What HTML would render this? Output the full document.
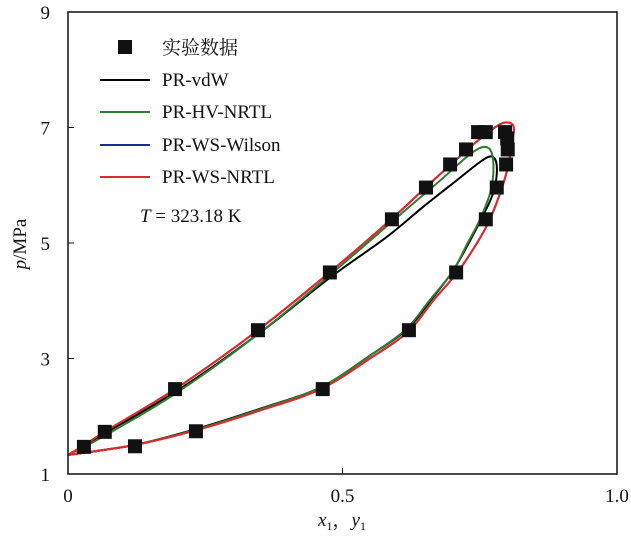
<!DOCTYPE html>
<html><head><meta charset="utf-8"><style>
body{margin:0;background:#fff}
svg text{font-family:"Liberation Serif","Noto Serif CJK SC",serif;fill:#111}
</style></head><body>
<svg id="chart" width="631" height="537" viewBox="0 0 631 537" xmlns="http://www.w3.org/2000/svg">
<g id="curves"></g><g id="marks"></g>
<rect x="68" y="12" width="549" height="462" fill="none" stroke="#111" stroke-width="1.5"/>
<g id="axes"></g>
<text transform="translate(26,244) rotate(-90)" text-anchor="middle" font-size="19"><tspan font-style="italic">p</tspan>/MPa</text>
<text x="342" y="526" text-anchor="middle" font-size="19"><tspan font-style="italic">x</tspan><tspan font-size="12" dy="4">1</tspan><tspan dy="-4">，</tspan><tspan font-style="italic">y</tspan><tspan font-size="12" dy="4">1</tspan></text>
<g>
<rect x="118" y="40" width="14" height="14" fill="#111"/>
<text x="162" y="54" font-size="19">实验数据</text>
<line x1="100" y1="80" x2="150" y2="80" stroke="#000" stroke-width="2"/>
<text x="162" y="86" font-size="19">PR-vdW</text>
<line x1="100" y1="112" x2="150" y2="112" stroke="#2f7d32" stroke-width="2"/>
<text x="162" y="118" font-size="19">PR-HV-NRTL</text>
<line x1="100" y1="145" x2="150" y2="145" stroke="#1d2a9a" stroke-width="2"/>
<text x="162" y="151" font-size="19">PR-WS-Wilson</text>
<line x1="100" y1="177" x2="150" y2="177" stroke="#e02a2a" stroke-width="2"/>
<text x="162" y="183" font-size="19">PR-WS-NRTL</text>
</g>
<text x="140" y="222" font-size="19"><tspan font-style="italic">T</tspan> = 323.18 K</text>
</svg>
<script>
const expX=[0.029,0.067,0.195,0.346,0.477,0.59,0.652,0.696,0.725,0.747,0.761,0.122,0.233,0.464,0.621,0.707,0.761,0.781,0.798,0.801,0.80,0.796];
const expP=[1.47,1.73,2.47,3.49,4.49,5.41,5.96,6.36,6.62,6.92,6.92,1.48,1.74,2.47,3.49,4.49,5.41,5.96,6.36,6.62,6.81,6.92];
const redX=[0,0.03,0.07,0.2,0.35,0.48,0.59,0.65,0.70,0.74,0.77,0.79,0.805,0.812,0.81,0.803,0.792,0.768,0.745,0.71,0.665,0.62,0.55,0.46,0.35,0.23,0.12,0];
const redP=[1.33,1.5,1.75,2.5,3.52,4.52,5.42,5.95,6.38,6.72,6.95,7.07,7.08,7.0,6.8,6.4,6.0,5.4,5.0,4.5,4.0,3.47,3.0,2.47,2.1,1.75,1.5,1.33];
const greenX=[0,0.07,0.2,0.35,0.48,0.6,0.68,0.73,0.755,0.77,0.775,0.77,0.75,0.728,0.70,0.658,0.615,0.55,0.46,0.35,0.23,0.12,0];
const greenP=[1.33,1.68,2.42,3.45,4.47,5.45,6.1,6.52,6.66,6.6,6.3,5.9,5.4,5.0,4.5,4.0,3.5,3.05,2.5,2.12,1.76,1.5,1.33];
const blackX=[0,0.07,0.2,0.35,0.48,0.58,0.65,0.71,0.75,0.77,0.78,0.78,0.772,0.752,0.73,0.70,0.66,0.617,0.55,0.46,0.35,0.23,0.12,0];
const blackP=[1.33,1.72,2.45,3.45,4.42,5.1,5.65,6.1,6.4,6.5,6.4,6.1,5.8,5.4,5.0,4.5,4.0,3.5,3.05,2.5,2.13,1.77,1.5,1.33];
const xTicks=[0,0.5,1.0],xLabels=["0","0.5","1.0"];
const yTicks=[1,3,5,7,9];
const NS="http://www.w3.org/2000/svg";
const sx=v=>68+v*549, sy=v=>474-(v-1)*57.75;
function pathD(X,P){const pts=X.map((x,i)=>[sx(x),sy(P[i])]);let d="M"+pts[0];for(let i=0;i<pts.length-1;i++){const p0=pts[i-1]||pts[i],p1=pts[i],p2=pts[i+1],p3=pts[i+2]||p2;const c1=[p1[0]+(p2[0]-p0[0])/6,p1[1]+(p2[1]-p0[1])/6],c2=[p2[0]-(p3[0]-p1[0])/6,p2[1]-(p3[1]-p1[1])/6];d+="C"+c1+" "+c2+" "+p2;}return d;}
const cg=document.getElementById('curves');
function addCurve(X,P,col,name){const p=document.createElementNS(NS,'path');p.setAttribute('d',pathD(X,P));p.setAttribute('fill','none');p.setAttribute('stroke',col);p.setAttribute('stroke-width','2');


cg.appendChild(p);}
addCurve(redX,redP,'#1d2a9a','curve-pr-ws-wilson');
addCurve(blackX,blackP,'#000','curve-pr-vdw');
addCurve(greenX,greenP,'#2f7d32','curve-pr-hv-nrtl');
addCurve(redX,redP,'#e02a2a','curve-pr-ws-nrtl');
const mg=document.getElementById('marks');
expX.forEach((x,i)=>{const r=document.createElementNS(NS,'rect');r.setAttribute('x',sx(x)-7);r.setAttribute('y',sy(expP[i])-7);r.setAttribute('width',14);r.setAttribute('height',14);r.setAttribute('fill','#111');


mg.appendChild(r);});
const ag=document.getElementById('axes');
xTicks.forEach((t,i)=>{const l=document.createElementNS(NS,'line');l.setAttribute('x1',sx(t));l.setAttribute('x2',sx(t));l.setAttribute('y1',474);l.setAttribute('y2',468);l.setAttribute('stroke','#111');


ag.appendChild(l);
const tx=document.createElementNS(NS,'text');tx.setAttribute('x',sx(t));tx.setAttribute('y',502);tx.setAttribute('text-anchor','middle');tx.setAttribute('font-size','19');tx.textContent=xLabels[i];


ag.appendChild(tx);});
yTicks.forEach(t=>{const l=document.createElementNS(NS,'line');l.setAttribute('x1',68);l.setAttribute('x2',74);l.setAttribute('y1',sy(t));l.setAttribute('y2',sy(t));l.setAttribute('stroke','#111');


ag.appendChild(l);
const tx=document.createElementNS(NS,'text');tx.setAttribute('x',50);tx.setAttribute('y',sy(t)+7);tx.setAttribute('text-anchor','end');tx.setAttribute('font-size','19');tx.textContent=String(t);


ag.appendChild(tx);});
</script>
</body></html>
